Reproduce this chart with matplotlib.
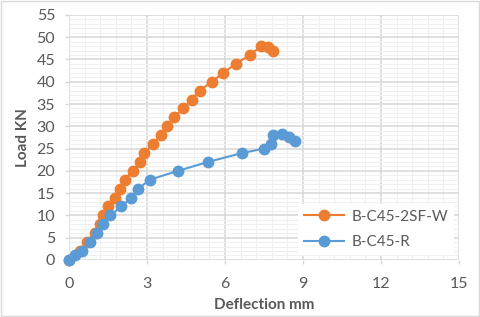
import matplotlib
matplotlib.use('Agg')
import matplotlib.pyplot as plt
from matplotlib.ticker import MultipleLocator

# B-C45-2SF-W
sf_defl = [0, 0.40, 0.70, 1.00, 1.17, 1.32, 1.49, 1.76, 1.96, 2.14, 2.45, 2.73, 2.88,
           3.24, 3.52, 3.76, 4.02, 4.40, 4.72, 5.02, 5.50, 5.93, 6.41, 6.96, 7.39,
           7.67, 7.85]
sf_load = [0, 2, 4, 6, 8, 10, 12, 14, 16, 18, 20, 22, 24,
           26, 28, 30, 32, 34, 36, 38, 40, 42, 44, 46, 48,
           47.8, 47.0]

# B-C45-R
r_defl = [0, 0.23, 0.49, 0.80, 1.08, 1.31, 1.59, 2.00, 2.40, 2.67, 3.10, 4.19, 5.35,
          6.66, 7.51, 7.77, 7.84, 8.19, 8.45, 8.68]
r_load = [0, 1, 2, 4, 6, 8, 10, 12, 14, 16, 18, 20, 22,
          24, 25, 26, 28, 28.2, 27.7, 26.6]

plt.rcParams['font.family'] = ['Lato', 'DejaVu Sans']

fig = plt.figure(figsize=(4.8, 3.17), dpi=100)
ax = fig.add_axes([0.144, 0.18, 0.812, 0.773])

ax.plot(sf_defl, sf_load, '-o', color='#ED7D31', ms=7.5, lw=1.5, label='B-C45-2SF-W',
        zorder=3, clip_on=False)
ax.plot(r_defl, r_load, '-o', color='#5B9BD5', ms=7.5, lw=1.5, label='B-C45-R',
        zorder=3, clip_on=False)

ax.set_xlim(0, 15)
ax.set_ylim(0, 55)
ax.xaxis.set_major_locator(MultipleLocator(3))
ax.xaxis.set_minor_locator(MultipleLocator(0.6))
ax.yaxis.set_major_locator(MultipleLocator(5))
ax.yaxis.set_minor_locator(MultipleLocator(1))
ax.grid(True, which='major', color='#D9D9D9', lw=1.2)
ax.grid(True, which='minor', color='#F0F0F0', lw=0.8)
ax.set_axisbelow(True)
for s in ax.spines.values():
    s.set_visible(False)
ax.tick_params(which='minor', length=0)
ax.tick_params(which='major', length=3, width=1, color='#D9D9D9',
               labelsize=11.5, labelcolor='#595959')
ax.tick_params(axis='x', pad=9)
ax.tick_params(axis='y', pad=7)

ax.set_xlabel('Deflection mm', fontsize=11, fontweight='bold', color='#595959', labelpad=5)
ax.set_ylabel('Load KN', fontsize=11, fontweight='bold', color='#595959', labelpad=5)

leg = ax.legend(loc='lower right', bbox_to_anchor=(1.0, 0.0), frameon=True, fancybox=False,
                edgecolor='none', facecolor='white', framealpha=1, fontsize=11,
                handlelength=2.6, handletextpad=0.5, labelspacing=0.75,
                borderaxespad=0.3, labelcolor='#595959')

fig.patches.append(plt.Rectangle((0.002, 0.003), 0.996, 0.994, transform=fig.transFigure,
                                 fill=False, edgecolor='#D9D9D9', lw=1))

plt.savefig('out.png', dpi=100)
